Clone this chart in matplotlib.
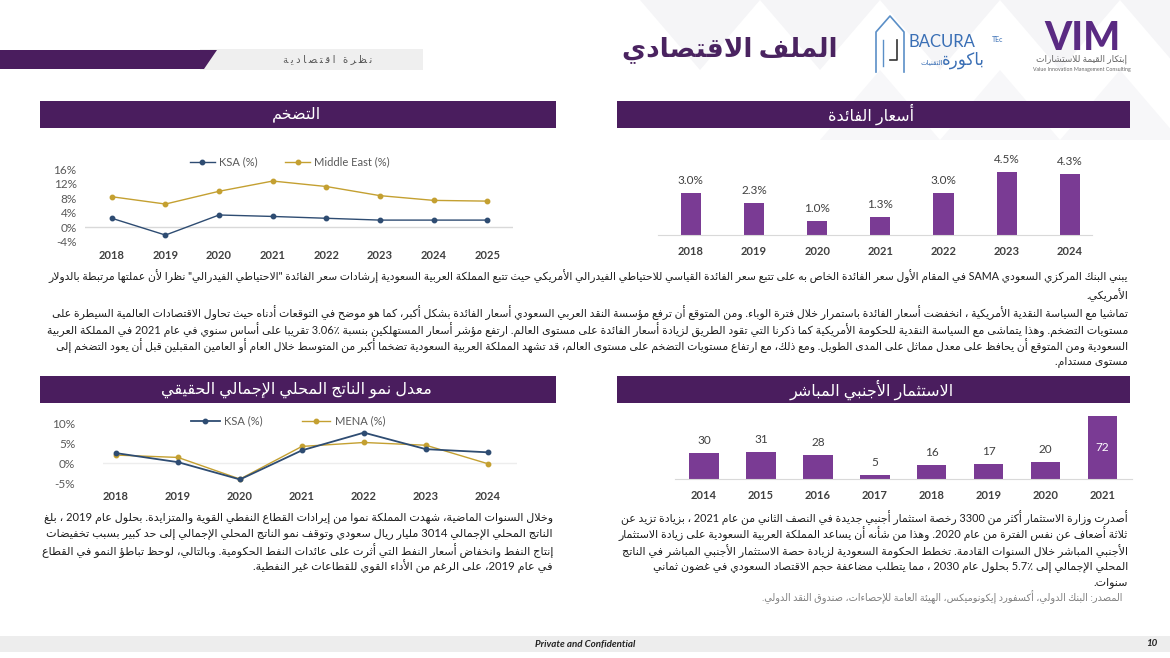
import re
import numpy as np
import matplotlib
matplotlib.use('Agg')
import matplotlib.pyplot as plt
from matplotlib.patches import Rectangle, Polygon
from matplotlib.lines import Line2D

plt.rcParams['font.family'] = ['Lato', 'DejaVu Sans']

# ---------------- data ----------------
infl_years = ['2018', '2019', '2020', '2021', '2022', '2023', '2024', '2025']
ksa_infl = [2.5, -2.1, 3.4, 3.0, 2.5, 2.0, 2.0, 2.0]
me_infl = [8.4, 6.4, 9.9, 12.7, 11.2, 8.7, 7.4, 7.2]
infl_ticks = [-4, 0, 4, 8, 12, 16]

rate_years = ['2018', '2019', '2020', '2021', '2022', '2023', '2024']
rates = [3.0, 2.3, 1.0, 1.3, 3.0, 4.5, 4.3]

gdp_years = ['2018', '2019', '2020', '2021', '2022', '2023', '2024']
ksa_gdp = [2.6, 0.3, -4.1, 3.3, 7.8, 3.6, 2.8]
mena_gdp = [2.1, 1.5, -4.0, 4.3, 5.3, 4.6, -0.1]
gdp_ticks = [-5, 0, 5, 10]

fdi_years = ['2014', '2015', '2016', '2017', '2018', '2019', '2020', '2021']
fdi = [30, 31, 28, 5, 16, 17, 20, 72]

title = 'الملف الاقتصادي'
tag = 'نظرة اقتصادية'
head_infl = 'التضخم'
head_rate = 'أسعار الفائدة'
head_gdp = 'معدل نمو الناتج المحلي الإجمالي الحقيقي'
head_fdi = 'الاستثمار الأجنبي المباشر'

para1 = [
    'يبني البنك المركزي السعودي SAMA في المقام الأول سعر الفائدة الخاص به على تتبع سعر الفائدة القياسي للاحتياطي الفيدرالي الأمريكي حيث تتبع المملكة العربية السعودية إرشادات سعر الفائدة "الاحتياطي الفيدرالي" نظراً لأن عملتها مرتبطة بالدولار',
    'الأمريكي.',
    'تماشيا مع السياسة النقدية الأمريكية ، انخفضت أسعار الفائدة باستمرار خلال فترة الوباء. ومن المتوقع أن ترفع مؤسسة النقد العربي السعودي أسعار الفائدة بشكل أكبر، كما هو موضح في التوقعات أدناه حيث تحاول الاقتصادات العالمية السيطرة على',
    'مستويات التضخم. وهذا يتماشى مع السياسة النقدية للحكومة الأمريكية كما ذكرنا التي تقود الطريق لزيادة أسعار الفائدة على مستوى العالم. ارتفع مؤشر أسعار المستهلكين بنسبة 3.06٪ تقريبا على أساس سنوي في عام 2021 في المملكة العربية',
    'السعودية ومن المتوقع أن يحافظ على معدل مماثل على المدى الطويل. ومع ذلك، مع ارتفاع مستويات التضخم على مستوى العالم، قد تشهد المملكة العربية السعودية تضخماً أكبر من المتوسط خلال العام أو العامين المقبلين قبل أن يعود التضخم إلى',
    'مستوى مستدام.',
]
para1_full = [True, False, True, True, True, False]

para2 = [
    'وخلال السنوات الماضية، شهدت المملكة نموا من إيرادات القطاع النفطي القوية والمتزايدة. بحلول عام 2019 ، بلغ',
    'الناتج المحلي الإجمالي 3014 مليار ريال سعودي وتوقف نمو الناتج المحلي الإجمالي إلى حد كبير بسبب تخفيضات',
    'إنتاج النفط وانخفاض أسعار النفط التي أثرت على عائدات النفط الحكومية. وبالتالي، لوحظ تباطؤ النمو في القطاع',
    'في عام 2019، على الرغم من الأداء القوي للقطاعات غير النفطية.',
]
para2_full = [True, True, True, False]

para3 = [
    'أصدرت وزارة الاستثمار أكثر من 3300 رخصة استثمار أجنبي جديدة في النصف الثاني من عام 2021 ، بزيادة تزيد عن',
    'ثلاثة أضعاف عن نفس الفترة من عام 2020. وهذا من شأنه أن يساعد المملكة العربية السعودية على زيادة الاستثمار',
    'الأجنبي المباشر خلال السنوات القادمة. تخطط الحكومة السعودية لزيادة حصة الاستثمار الأجنبي المباشر في الناتج',
    'المحلي الإجمالي إلى 5.7٪ بحلول عام 2030 ، مما يتطلب مضاعفة حجم الاقتصاد السعودي في غضون ثماني',
    'سنوات.',
]
para3_full = [True, True, True, False, False]

source = 'المصدر: البنك الدولي، أكسفورد إيكونوميكس، الهيئة العامة للإحصاءات، صندوق النقد الدولي.'

# ---------------- arabic shaping (no external libs) ----------------
DUAL = {'ئ': 0xFE89, 'ب': 0xFE8F, 'ت': 0xFE95, 'ث': 0xFE99, 'ج': 0xFE9D, 'ح': 0xFEA1,
        'خ': 0xFEA5, 'س': 0xFEB1, 'ش': 0xFEB5, 'ص': 0xFEB9, 'ض': 0xFEBD, 'ط': 0xFEC1,
        'ظ': 0xFEC5, 'ع': 0xFEC9, 'غ': 0xFECD, 'ف': 0xFED1, 'ق': 0xFED5, 'ك': 0xFED9,
        'ل': 0xFEDD, 'م': 0xFEE1, 'ن': 0xFEE5, 'ه': 0xFEE9, 'ي': 0xFEF1}
RIGHT = {'آ': 0xFE81, 'أ': 0xFE83, 'ؤ': 0xFE85, 'إ': 0xFE87, 'ا': 0xFE8D, 'ة': 0xFE93,
         'د': 0xFEA9, 'ذ': 0xFEAB, 'ر': 0xFEAD, 'ز': 0xFEAF, 'و': 0xFEED, 'ى': 0xFEEF}
LAMALEF = {'آ': 0xFEF5, 'أ': 0xFEF7, 'إ': 0xFEF9, 'ا': 0xFEFB}
MIRROR = {'(': ')', ')': '(', '«': '»', '»': '«'}


def shape(s):
    s = ''.join(c for c in s if not ('\u064B' <= c <= '\u065F' or c == '\u0670'))
    units = []
    i = 0
    while i < len(s):
        c = s[i]
        if c == 'ل' and i + 1 < len(s) and s[i + 1] in LAMALEF:
            units.append(('R', LAMALEF[s[i + 1]]))
            i += 2
            continue
        if c in DUAL:
            units.append(('D', DUAL[c]))
        elif c in RIGHT:
            units.append(('R', RIGHT[c]))
        elif c == 'ء':
            units.append(('N', 0xFE80))
        elif c == 'ـ':
            units.append(('T', ord(c)))
        else:
            units.append((None, c))
        i += 1
    out = []
    for k, (kind, val) in enumerate(units):
        if kind is None:
            out.append(val)
            continue
        if kind in ('N', 'T'):
            out.append(chr(val))
            continue
        prev = k > 0 and units[k - 1][0] in ('D', 'T')
        nxt = k + 1 < len(units) and units[k + 1][0] in ('D', 'R', 'T')
        if kind == 'D':
            if prev and nxt:
                off = 3
            elif nxt:
                off = 2
            elif prev:
                off = 1
            else:
                off = 0
        else:
            off = 1 if prev else 0
        out.append(chr(val + off))
    return ''.join(out)


LTR = re.compile(r'[A-Za-z0-9]+(?:[.,][0-9]+)*[%٪]?')


def ar(s):
    parts = []
    pos = 0
    for m in LTR.finditer(s):
        parts.append(('r', s[pos:m.start()]))
        parts.append(('l', m.group()))
        pos = m.end()
    parts.append(('r', s[pos:]))
    out = ''
    for kind, t in reversed(parts):
        if kind == 'l':
            out += t
        else:
            t = ''.join(MIRROR.get(c, c) for c in shape(t))
            out += t[::-1]
    return out


# ---------------- figure ----------------
W, H = 1170, 658
fig = plt.figure(figsize=(W / 100, H / 100), dpi=100)
fig.patch.set_facecolor('white')
bg = fig.add_axes([0, 0, 1, 1])
bg.set_xlim(0, W)
bg.set_ylim(H, 0)
bg.axis('off')

purple = '#4A1D5E'
bar_col = '#7A3B94'
ksa_col = '#2E4C72'
gold_col = '#C4A031'
txt_col = '#1E1E1E'


def add_ax(x0, y0, x1, y1):
    a = fig.add_axes([x0 / W, 1 - y1 / H, (x1 - x0) / W, (y1 - y0) / H])
    a.set_facecolor('none')
    for sp in a.spines.values():
        sp.set_visible(False)
    return a


# faint background triangles, top right
for x0 in [640, 760, 880, 1000, 1120]:
    bg.add_patch(Polygon([[x0, 0], [x0 + 120, 0], [x0 + 60, 70]], closed=True,
                         facecolor='#F5F5F7', edgecolor='none', zorder=0))
for x0 in [820, 940, 1060]:
    bg.add_patch(Polygon([[x0, 140], [x0 + 60, 70], [x0 + 120, 140]], closed=True,
                         facecolor='#F7F7F9', edgecolor='none', zorder=0))

# top-left tag bar
bg.add_patch(Rectangle((200, 49), 223, 21, facecolor='#EFEFEF', edgecolor='none'))
bg.add_patch(Polygon([[0, 50], [217, 50], [204, 69], [0, 69]], closed=True,
                     facecolor=purple, edgecolor='none'))
bg.text(328, 59, ' '.join(ar(tag)), fontsize=7.2, color='#555555', ha='center', va='center')

# title
bg.text(730, 50, ar(title), fontsize=19, fontweight='bold', color='#4A2360',
        ha='center', va='center')

# logos (approximated)
bg.plot([876, 876, 890, 904, 904], [72, 32, 16, 32, 72], color='#5B8FC7', lw=1.2)
bg.plot([883, 883], [40, 66], color='#5B8FC7', lw=1)
bg.plot([897, 897, 890], [40, 60, 60], color='#333333', lw=1.2)
bg.text(908, 42, 'BACURA', fontsize=12, color='#3A6FB5', ha='left', va='center')
bg.text(992, 40, 'TEc', fontsize=5, color='#3A6FB5', ha='left', va='center')
bg.text(985, 60, ar('باكورة'), fontsize=12, color='#3A6FB5', ha='right', va='center')
bg.text(943, 62, ar('التقنيات'), fontsize=5, color='#3A6FB5', ha='right', va='center')
bg.text(1082, 38, 'VIM', fontsize=28, fontweight='black', color='#5A2A82',
        ha='center', va='center')
bg.text(1082, 59, ar('إبتكار القيمة للاستشارات'), fontsize=6.5, color='#666666',
        ha='center', va='center')
bg.text(1082, 69, 'Value Innovation Management Consulting', fontsize=3.8, color='#666666',
        ha='center', va='center')

# section headers
for (x0, x1, y0, label) in [(40, 556, 101, head_infl), (617, 1130, 101, head_rate),
                            (40, 556, 376, head_gdp), (617, 1130, 376, head_fdi)]:
    bg.add_patch(Rectangle((x0, y0), x1 - x0, 27, facecolor=purple, edgecolor='none'))
    bg.text((x0 + x1) / 2 - 2, y0 + 13.5, ar(label), fontsize=11.5, color='white',
            ha='center', va='center')

# ---------------- inflation chart ----------------
ax1 = add_ax(85, 169, 513, 242)
x = np.arange(len(infl_years))
ax1.plot(x, ksa_infl, color=ksa_col, lw=1, marker='o', ms=3.2)
ax1.plot(x, me_infl, color=gold_col, lw=1, marker='o', ms=3.2)
ax1.axhline(0, color='#D9D9D9', lw=1, zorder=0)
ax1.set_xlim(-0.5, 7.48)
ax1.set_ylim(-4, 16)
ax1.set_yticks(infl_ticks)
ax1.set_yticklabels([f'{t}%' for t in infl_ticks])
ax1.set_xticks(x)
ax1.set_xticklabels(infl_years, fontweight='bold')
ax1.tick_params(axis='y', length=0, pad=6, labelsize=8.5, labelcolor='#595959')
ax1.tick_params(axis='x', length=0, pad=6, labelsize=8, labelcolor='#404040')
h1 = [Line2D([], [], color=ksa_col, lw=1, marker='o', ms=3.2),
      Line2D([], [], color=gold_col, lw=1, marker='o', ms=3.2)]
fig.legend(h1, ['KSA (%)', 'Middle East (%)'], loc='center', ncol=2, frameon=False,
           bbox_to_anchor=(290 / W, 1 - 162 / H), fontsize=8, labelcolor='#595959',
           handlelength=2.2, columnspacing=2.5, handletextpad=0.4)

# ---------------- interest rate chart ----------------
ax2 = add_ax(658, 150, 1092, 235)
x = np.arange(len(rate_years))
ax2.bar(x, rates, width=0.32, color=bar_col)
for i, v in enumerate(rates):
    ax2.annotate(f'{v:.1f}%', (i, v), xytext=(0, 5), textcoords='offset points',
                 ha='center', va='bottom', fontsize=8.5, color='#404040')
ax2.set_xlim(-0.52, 6.35)
ax2.set_ylim(0, 6.03)
ax2.set_yticks([])
ax2.set_xticks(x)
ax2.set_xticklabels(rate_years, fontweight='bold')
ax2.spines['bottom'].set_visible(True)
ax2.spines['bottom'].set_color('#D9D9D9')
ax2.tick_params(axis='x', length=0, pad=8, labelsize=8, labelcolor='#404040')

# ---------------- GDP chart ----------------
ax3 = add_ax(103, 424, 517, 483)
x = np.arange(len(gdp_years))
ax3.plot(x, ksa_gdp, color=ksa_col, lw=1.3, marker='o', ms=3.2, zorder=3)
ax3.plot(x, mena_gdp, color=gold_col, lw=1, marker='o', ms=3.2, zorder=2)
ax3.axhline(0, color='#EDEDED', lw=1, zorder=0)
ax3.set_xlim(-0.21, 6.47)
ax3.set_ylim(-5, 10)
ax3.set_yticks(gdp_ticks)
ax3.set_yticklabels([f'{t}%' for t in gdp_ticks])
ax3.set_xticks(x)
ax3.set_xticklabels(gdp_years, fontweight='bold')
ax3.tick_params(axis='y', length=0, pad=20, labelsize=8.5, labelcolor='#595959')
ax3.tick_params(axis='x', length=0, pad=6, labelsize=8, labelcolor='#404040')
h3 = [Line2D([], [], color=ksa_col, lw=1.3, marker='o', ms=3.2),
      Line2D([], [], color=gold_col, lw=1, marker='o', ms=3.2)]
fig.legend(h3, ['KSA (%)', 'MENA (%)'], loc='center', ncol=2, frameon=False,
           bbox_to_anchor=(288 / W, 1 - 421 / H), fontsize=8, labelcolor='#595959',
           handlelength=2.6, columnspacing=3.5, handletextpad=0.4)

# ---------------- FDI chart ----------------
ax4 = add_ax(675, 410, 1132, 479)
x = np.arange(len(fdi_years))
ax4.bar(x, fdi, width=0.52, color=bar_col)
for i, v in enumerate(fdi):
    if v > 60:
        ax4.text(i, v * 0.5, f'{v}', ha='center', va='center', fontsize=8.5, color='white')
    else:
        ax4.annotate(f'{v}', (i, v), xytext=(0, 5), textcoords='offset points',
                     ha='center', va='bottom', fontsize=8.5, color='#404040')
ax4.set_xlim(-0.51, 7.52)
ax4.set_ylim(0, 78.9)
ax4.set_yticks([])
ax4.set_xticks(x)
ax4.set_xticklabels(fdi_years, fontweight='bold')
ax4.spines['bottom'].set_visible(True)
ax4.spines['bottom'].set_color('#D9D9D9')
ax4.tick_params(axis='x', length=0, pad=8, labelsize=8, labelcolor='#404040')

# ---------------- paragraphs (full lines stretched to the column width) ----------------
renderer = fig.canvas.get_renderer()


def paragraph(lines, full, xr, xl, ys, fs0=9.5, color=txt_col):
    texts = [bg.text(xr, y, ar(s), fontsize=fs0, color=color, ha='right', va='center')
             for s, y in zip(lines, ys)]
    sizes = []
    for t, f in zip(texts, full):
        if f:
            w = t.get_window_extent(renderer).width
            sizes.append(fs0 * (xr - xl) / w)
    base = float(np.median(sizes))
    for t, f in zip(texts, full):
        if f:
            w = t.get_window_extent(renderer).width
            t.set_fontsize(min(fs0 * (xr - xl) / w, base * 1.08))
        else:
            t.set_fontsize(base)


paragraph(para1, para1_full, 1128, 45, [276, 295, 313, 330, 346, 362])
paragraph(para2, para2_full, 553, 40, [518, 534, 551, 567])
paragraph(para3, para3_full, 1128, 617, [518, 534, 551, 567, 583])
bg.text(1122, 597, ar(source), fontsize=7, color='#808080', ha='right', va='center')

# footer
bg.add_patch(Rectangle((0, 636), W, 16, facecolor='#EDEDED', edgecolor='none'))
bg.text(585, 644, 'Private and Confidential', fontsize=7, fontweight='bold',
        fontstyle='italic', color='#222222', ha='center', va='center')
bg.text(1152, 644, '10', fontsize=7, fontweight='bold', fontstyle='italic',
        color='#222222', ha='center', va='center')

fig.savefig('out.png', dpi=100)
